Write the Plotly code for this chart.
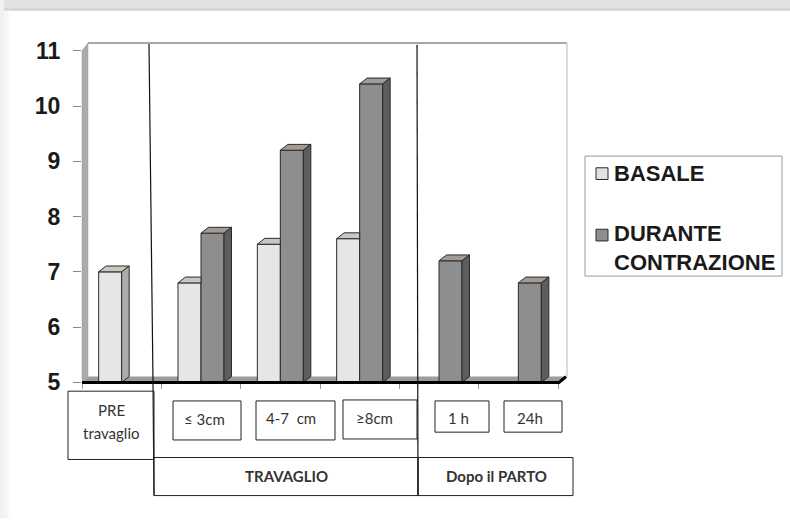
import plotly.graph_objects as go

# ---- data ----
categories = ["PRE travaglio", "≤ 3cm", "4-7  cm", "≥8cm", "1 h", "24h"]
basale = [7.0, 6.8, 7.5, 7.6, None, None]
durante = [None, 7.7, 9.2, 10.4, 7.2, 6.8]
y_ticks = [5, 6, 7, 8, 9, 10, 11]
series_names = ["BASALE", "DURANTE CONTRAZIONE"]

W, H = 790, 531
FONT_BOLD = "Arial, Liberation Sans, sans-serif"
FONT_LBL = "Lato, Open Sans, sans-serif"

# pixel helpers (paper coordinates, margins are zero)
def px(x):
    return x / W

def py(y):
    return 1 - y / H

# axis geometry
X_LEFT, X_RIGHT = 82, 580          # plot domain in px
Y_BOTTOM, Y_TOP = 392, 36
PPU_X = (558 - 82) / 6.0           # px per category
PPU_Y = (392 - 52) / 6.0           # px per unit
x_range = [-0.5, -0.5 + (X_RIGHT - X_LEFT) / PPU_X]
y_range = [5, 5 + (Y_BOTTOM - Y_TOP) / PPU_Y]

BW = 0.29                          # bar width (category units)
DX = 7.5 / PPU_X                   # 3D depth offsets
DY = 6.0 / PPU_Y
FLOOR = 5

C_BAS = dict(front="#e6e6e6", top="#cdc6bf", side="#acacac")
C_DUR = dict(front="#8e8e8e", top="#a29b95", side="#5d5d5d")
EDGE = "#2a2a2a"

idx = list(range(len(categories)))

fig = go.Figure()

fig.add_trace(go.Bar(
    x=idx, y=basale, width=BW, offset=-BW, name=series_names[0],
    marker=dict(color=C_BAS["front"], line=dict(color=EDGE, width=1)),
    customdata=categories, hovertemplate="%{customdata}: %{y}<extra>BASALE</extra>",
))
fig.add_trace(go.Bar(
    x=idx, y=durante, width=BW, offset=0, name=series_names[1],
    marker=dict(color=C_DUR["front"], line=dict(color=EDGE, width=1)),
    customdata=categories, hovertemplate="%{customdata}: %{y}<extra>DURANTE</extra>",
))


def box_faces(vals, offset, neighbour=None):
    """Top and side faces of the 3D bars, in data coordinates."""
    tx, ty, sx, sy = [], [], [], []
    for i, v in enumerate(vals):
        if v is None:
            continue
        xl = i + offset
        xr = xl + BW
        hidden = neighbour is not None and neighbour[i] is not None
        if hidden:
            tx += [xl, xl + DX, xr, xr, xl, None]
            ty += [v, v + DY, v + DY, v, v, None]
        else:
            tx += [xl, xl + DX, xr + DX, xr, xl, None]
            ty += [v, v + DY, v + DY, v, v, None]
            sx += [xr, xr + DX, xr + DX, xr, xr, None]
            sy += [v, v + DY, FLOOR + DY, FLOOR, v, None]
    return tx, ty, sx, sy


for vals, off, nb, col in [(basale, -BW, durante, C_BAS), (durante, 0, None, C_DUR)]:
    tx, ty, sx, sy = box_faces(vals, off, nb)
    fig.add_trace(go.Scatter(x=tx, y=ty, mode="lines", fill="toself", fillcolor=col["top"],
                             line=dict(color=EDGE, width=1), hoverinfo="skip", showlegend=False))
    if sx:
        fig.add_trace(go.Scatter(x=sx, y=sy, mode="lines", fill="toself", fillcolor=col["side"],
                                 line=dict(color=EDGE, width=1), hoverinfo="skip", showlegend=False))

shapes = []

def rect(x0, y0, x1, y1, fill=None, line=None, lw=1, layer="above"):
    shapes.append(dict(type="rect", xref="paper", yref="paper",
                       x0=px(x0), x1=px(x1), y0=py(y1), y1=py(y0),
                       fillcolor=fill or "rgba(0,0,0,0)",
                       line=dict(color=line or "rgba(0,0,0,0)", width=lw if line else 0),
                       layer=layer))

def path(points, fill=None, line=None, lw=1, layer="above", close=True):
    d = "M " + " L ".join(f"{px(a):.5f},{py(b):.5f}" for a, b in points)
    if close:
        d += " Z"
    shapes.append(dict(type="path", xref="paper", yref="paper", path=d,
                       fillcolor=fill or "rgba(0,0,0,0)",
                       line=dict(color=line or "rgba(0,0,0,0)", width=lw if line else 0),
                       layer=layer))

# page frame shading
rect(0, 0, 790, 11, fill="#e2e2e2", layer="below")
rect(0, 8, 790, 11, fill="#d6d6d6", layer="below")
rect(0, 0, 4, 531, fill="#f1f1f1", layer="below")
rect(4, 11, 8, 531, fill="#f6f6f6", layer="below")
rect(8, 11, 11, 531, fill="#fbfbfb", layer="below")

# 3D walls and floor
rect(88, 44, 567, 386, fill="#ffffff", layer="below")
path([(88, 44), (567, 44)], line="#8a8a8a", lw=1.5, layer="below", close=False)
path([(567, 44), (567, 386)], line="#d0d0d0", lw=1.5, layer="below", close=False)
path([(82, 392), (88, 386), (88, 44), (82, 52)], fill="#ababab", line="#9a9a9a", lw=0.5, layer="below")
path([(82, 392), (88, 386), (567, 386), (559, 392)], fill="#9c9c9c", layer="below")
path([(82, 392), (559, 392), (566, 386)], line="#000000", lw=3, close=False)

# group separators
path([(149, 45), (153, 392), (154, 508)], line="#111111", lw=1.2, close=False)
path([(417, 46), (418, 508)], line="#111111", lw=1.2, close=False)

# category label boxes
BOX = "#222222"
rect(68, 401, 154, 471, line=BOX)
rect(173, 411, 241, 451, line=BOX)
rect(256, 411, 335, 451, line=BOX)
rect(343, 410, 417, 450, line=BOX)
rect(435, 411, 489, 443, line=BOX)
rect(504, 411, 562, 443, line=BOX)
rect(154, 469, 418, 508, line=BOX)
rect(418, 469, 573, 508, line=BOX)

# legend box
rect(585, 160, 782, 283, fill="#ffffff", line="#9a9a9a")
rect(596, 172, 608, 184, fill="#e2e2e2", line=EDGE)
rect(596, 235, 608, 247, fill=C_DUR["front"], line=EDGE)

annotations = []

def label(x, y, text, size=15, bold=False, family=FONT_LBL, color="#333333", xanchor="center"):
    annotations.append(dict(x=px(x), y=py(y), xref="paper", yref="paper", text=text,
                            showarrow=False, xanchor=xanchor, yanchor="middle", align="left",
                            font=dict(family=family, size=size, color=color,
                                      weight="bold" if bold else "normal")))

label(111, 420, "PRE")
label(111, 444, "travaglio")
label(204, 430, categories[1])
label(291, 429, categories[2])
label(374, 429, categories[3])
label(458, 428, categories[4])
label(530, 428, categories[5])
label(286, 488, "TRAVAGLIO", size=15, bold=True)
label(496, 488, "Dopo il PARTO", size=15, bold=True)

label(612, 178, "BASALE", size=22, bold=True, family=FONT_BOLD, color="#1a1a1a", xanchor="left")
label(612, 254, "DURANTE<br>CONTRAZIONE", size=22, bold=True, family=FONT_BOLD,
      color="#1a1a1a", xanchor="left")

fig.update_layout(
    width=W, height=H,
    margin=dict(l=0, r=0, t=0, b=0),
    paper_bgcolor="#ffffff", plot_bgcolor="rgba(0,0,0,0)",
    barmode="overlay", showlegend=False,
    shapes=shapes, annotations=annotations,
    xaxis=dict(domain=[px(X_LEFT), px(X_RIGHT)], range=x_range,
               tickvals=[i - 0.5 for i in range(len(categories) + 1)],
               showticklabels=False, ticks="outside", ticklen=6, tickcolor="#9a9a9a",
               showgrid=False, zeroline=False, showline=False, fixedrange=True),
    yaxis=dict(domain=[py(Y_BOTTOM), py(Y_TOP)], range=y_range,
               tickvals=y_ticks, ticktext=[str(t) for t in y_ticks],
               ticks="outside", ticklen=8, tickcolor="#8a8a8a", ticklabelstandoff=8,
               tickfont=dict(family=FONT_BOLD, size=23, color="#1a1a1a", weight="bold"),
               showgrid=False, zeroline=False, showline=False, fixedrange=True),
)

fig.write_html("out.html")
